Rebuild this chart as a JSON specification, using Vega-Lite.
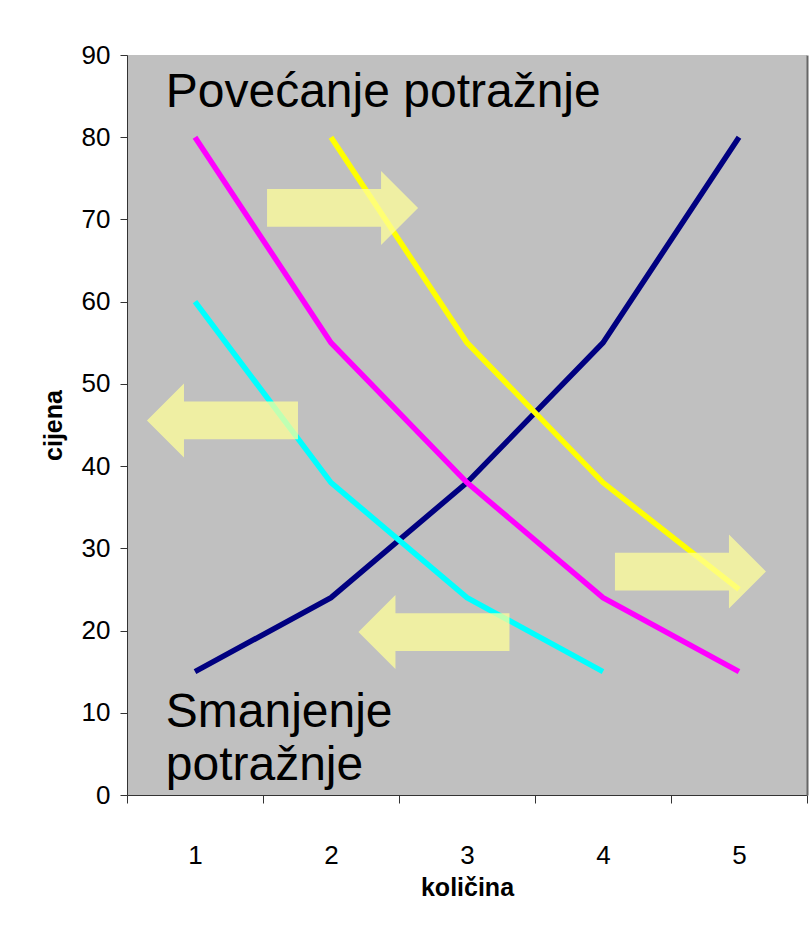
{
  "$schema": "https://vega.github.io/schema/vega-lite/v6.json",
  "width": 680,
  "height": 740,
  "autosize": "none",
  "padding": {"left": 127, "top": 55, "right": 5, "bottom": 143},
  "background": "white",
  "config": {
    "font": "Liberation Sans",
    "view": {"fill": "#c0c0c0", "stroke": null},
    "axis": {"grid": false}
  },
  "datasets": {
    "curves": [
      {"q": 1, "p": 15, "s": "ponuda"},
      {"q": 2, "p": 24, "s": "ponuda"},
      {"q": 3, "p": 38, "s": "ponuda"},
      {"q": 4, "p": 55, "s": "ponuda"},
      {"q": 5, "p": 80, "s": "ponuda"},
      {"q": 1, "p": 80, "s": "potražnja"},
      {"q": 2, "p": 55, "s": "potražnja"},
      {"q": 3, "p": 38, "s": "potražnja"},
      {"q": 4, "p": 24, "s": "potražnja"},
      {"q": 5, "p": 15, "s": "potražnja"},
      {"q": 2, "p": 80, "s": "povećana"},
      {"q": 3, "p": 55, "s": "povećana"},
      {"q": 4, "p": 38, "s": "povećana"},
      {"q": 5, "p": 25, "s": "povećana"},
      {"q": 1, "p": 60, "s": "smanjena"},
      {"q": 2, "p": 38, "s": "smanjena"},
      {"q": 3, "p": 24, "s": "smanjena"},
      {"q": 4, "p": 15, "s": "smanjena"}
    ],
    "arrows": [
      {"ax": 2.085, "ay": 71.4, "dir": "desno"},
      {"ax": 1.202, "ay": 45.55, "dir": "lijevo"},
      {"ax": 4.643, "ay": 27.18, "dir": "desno"},
      {"ax": 2.757, "ay": 19.82, "dir": "lijevo"}
    ],
    "labels": [
      {"tx": 0.785, "ty": 83.7, "t": "Povećanje potražnje"},
      {"tx": 0.785, "ty": 8.27, "t": "Smanjenje"},
      {"tx": 0.785, "ty": 1.82, "t": "potražnje"}
    ]
  },
  "layer": [
    {
      "data": {"name": "curves"},
      "mark": {"type": "line", "strokeWidth": 5.5, "clip": false},
      "encoding": {
        "x": {
          "field": "q", "type": "ordinal",
          "scale": {"paddingInner": 0, "paddingOuter": 0},
          "axis": {
            "title": "količina", "labelAngle": 0, "tickBand": "extent",
            "tickSize": 8, "labelPadding": 39, "labelFontSize": 26,
            "labelColor": "#000", "domainColor": "#333", "tickColor": "#333",
            "titleFontSize": 25, "titleFontWeight": "bold", "titleColor": "#000",
            "titleX": 340, "titleY": 92, "titleBaseline": "middle", "titleAlign": "center"
          }
        },
        "y": {
          "field": "p", "type": "quantitative",
          "scale": {"domain": [0, 90], "nice": false, "zero": true},
          "axis": {
            "title": "cijena", "values": [0, 10, 20, 30, 40, 50, 60, 70, 80, 90],
            "tickSize": 7, "labelPadding": 10, "labelFontSize": 26,
            "labelColor": "#000", "domainColor": "#333", "tickColor": "#333",
            "titleFontSize": 25, "titleFontWeight": "bold", "titleColor": "#000",
            "titleX": -74, "titleY": 370, "titleBaseline": "middle", "titleAlign": "center", "titleAngle": -90
          }
        },
        "color": {
          "field": "s", "type": "nominal",
          "scale": {
            "domain": ["ponuda", "potražnja", "povećana", "smanjena"],
            "range": ["#000080", "#ff00ff", "#ffff00", "#00ffff"]
          },
          "legend": null
        }
      }
    },
    {
      "data": {"name": "labels"},
      "mark": {"type": "text", "align": "left", "baseline": "alphabetic", "fontSize": 48, "color": "#000"},
      "encoding": {
        "x": {"field": "tx", "type": "quantitative", "scale": {"domain": [0.5, 5.5], "nice": false, "zero": false}, "axis": null},
        "y": {
          "field": "ty", "type": "quantitative",
          "axis": {"orient": "right", "labels": false, "ticks": false, "title": null, "domainColor": "#666", "domainWidth": 2}
        },
        "text": {"field": "t"}
      }
    },
    {
      "data": {"name": "arrows"},
      "mark": {"type": "point", "filled": true, "fill": "#ffff99", "opacity": 0.75, "strokeWidth": 0, "size": 22801},
      "encoding": {
        "x": {"field": "ax", "type": "quantitative", "scale": {"domain": [0.5, 5.5], "nice": false, "zero": false}, "axis": null},
        "y": {"field": "ay", "type": "quantitative", "axis": null},
        "shape": {
          "field": "dir", "type": "nominal",
          "scale": {
            "domain": ["desno", "lijevo"],
            "range": [
              "M-1,-0.25L0.51,-0.25L0.51,-0.49L1,0L0.51,0.49L0.51,0.25L-1,0.25Z",
              "M1,-0.25L-0.51,-0.25L-0.51,-0.49L-1,0L-0.51,0.49L-0.51,0.25L1,0.25Z"
            ]
          },
          "legend": null
        }
      }
    }
  ],
  "resolve": {
    "scale": {"x": "independent", "shape": "independent"},
    "axis": {"x": "independent", "y": "independent"}
  }
}
